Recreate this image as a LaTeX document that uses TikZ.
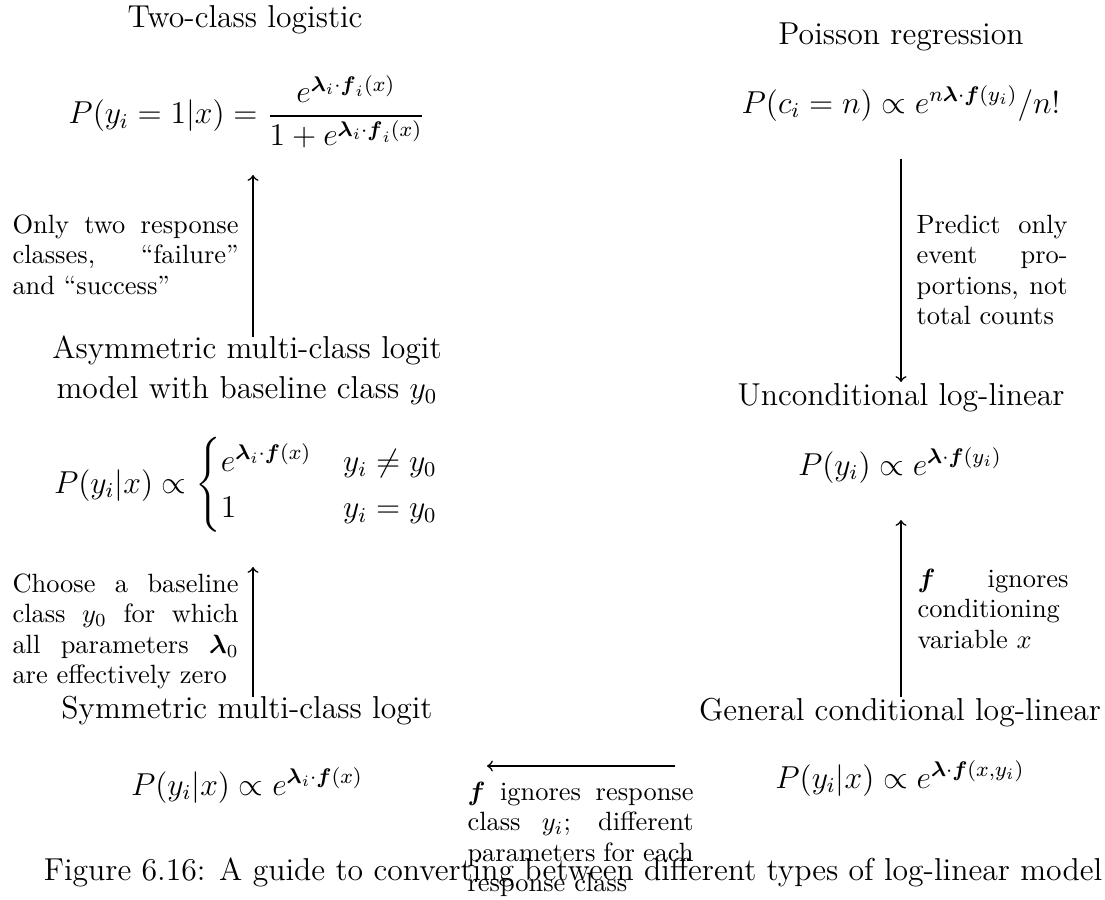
\documentclass[tikz,border=0pt]{standalone}
\usepackage{amsmath,amssymb}
\usepackage{tikz}
\begin{document}
\begin{tikzpicture}[x=0.3786pt,y=-0.3786pt,
  title/.style={inner sep=0pt,anchor=base,font=\fontsize{12}{15.5}\selectfont},
  formula/.style={inner sep=0pt,anchor=base,font=\fontsize{12}{14.5}\selectfont},
  note/.style={inner sep=0pt,anchor=base west,font=\fontsize{10}{11.6}\selectfont},
  conv/.style={->,line width=0.6pt}]
\useasboundingbox (0,0) rectangle (1105,899);
% top row
\node[title] (tcl) at (245,28) {Two-class logistic};
\node[formula] (ftcl) at (247,124) {$\displaystyle P(y_i=1|x)=\frac{e^{\boldsymbol{\lambda}_i\cdot\boldsymbol{f}_i(x)}}{1+e^{\boldsymbol{\lambda}_i\cdot\boldsymbol{f}_i(x)}}$};
\node[title] (tpr) at (901,45) {Poisson regression};
\node[formula] (fpr) at (901,113) {$P(c_i=n)\propto e^{n\boldsymbol{\lambda}\cdot\boldsymbol{f}(y_i)}/n!$};
% middle row
\node[title] (tam) at (247,358) {\parbox[t]{170pt}{\centering Asymmetric multi-class logit\\ model with baseline class $y_0$}};
\node[formula] (fam) at (247,493) {$\displaystyle P(y_i|x)\propto\begin{cases} e^{\boldsymbol{\lambda}_i\cdot\boldsymbol{f}(x)} & y_i\neq y_0\\ 1 & y_i=y_0\end{cases}$};
\node[title] (tul) at (901,405) {Unconditional log-linear};
\node[formula] (ful) at (900,475) {$P(y_i)\propto e^{\boldsymbol{\lambda}\cdot\boldsymbol{f}(y_i)}$};
% bottom row
\node[title] (tsm) at (247,718) {Symmetric multi-class logit};
\node[formula] (fsm) at (247,795) {$P(y_i|x)\propto e^{\boldsymbol{\lambda}_i\cdot\boldsymbol{f}(x)}$};
\node[title] (tgc) at (900,720) {General conditional log-linear};
\node[formula] (fgc) at (900,788) {$P(y_i|x)\propto e^{\boldsymbol{\lambda}\cdot\boldsymbol{f}(x,y_i)}$};
% arrows
\coordinate (a1s) at (253,337); \coordinate (a1e) at (253,175);
\coordinate (a2s) at (253,697); \coordinate (a2e) at (253,567);
\coordinate (a3s) at (675,766); \coordinate (a3e) at (487,766);
\coordinate (a5s) at (901,697); \coordinate (a5e) at (901,520);
\coordinate (a6s) at (901,159); \coordinate (a6e) at (901,382);
\draw[conv] (a1s) -- (a1e);
\draw[conv] (a2s) -- (a2e);
\draw[conv] (a3s) -- (a3e);
\draw[conv] (a5s) -- (a5e);
\draw[conv] (a6s) -- (a6e);
% notes
\node[note] (n1) at (12,233) {\parbox[t]{85.6pt}{Only two response classes, ``failure'' and ``success''}};
\node[note] (n2) at (12,592) {\parbox[t]{85.6pt}{Choose a baseline class $y_0$ for which all parameters $\boldsymbol{\lambda}_0$ are effectively zero}};
\node[note] (n3) at (467,800) {\parbox[t]{85.6pt}{$\boldsymbol{f}$ ignores response class $y_i$; different parameters for each response class}};
\node[note] (n5) at (917,587) {\parbox[t]{57.2pt}{$\boldsymbol{f}$ ignores conditioning variable $x$}};
\node[note] (n6) at (916,233) {\parbox[t]{57.2pt}{Predict only event proportions, not total counts}};
% caption
\node[title] (cap) at (573,880) {Figure 6.16: A guide to converting between different types of log-linear model};
\end{tikzpicture}
\end{document}
